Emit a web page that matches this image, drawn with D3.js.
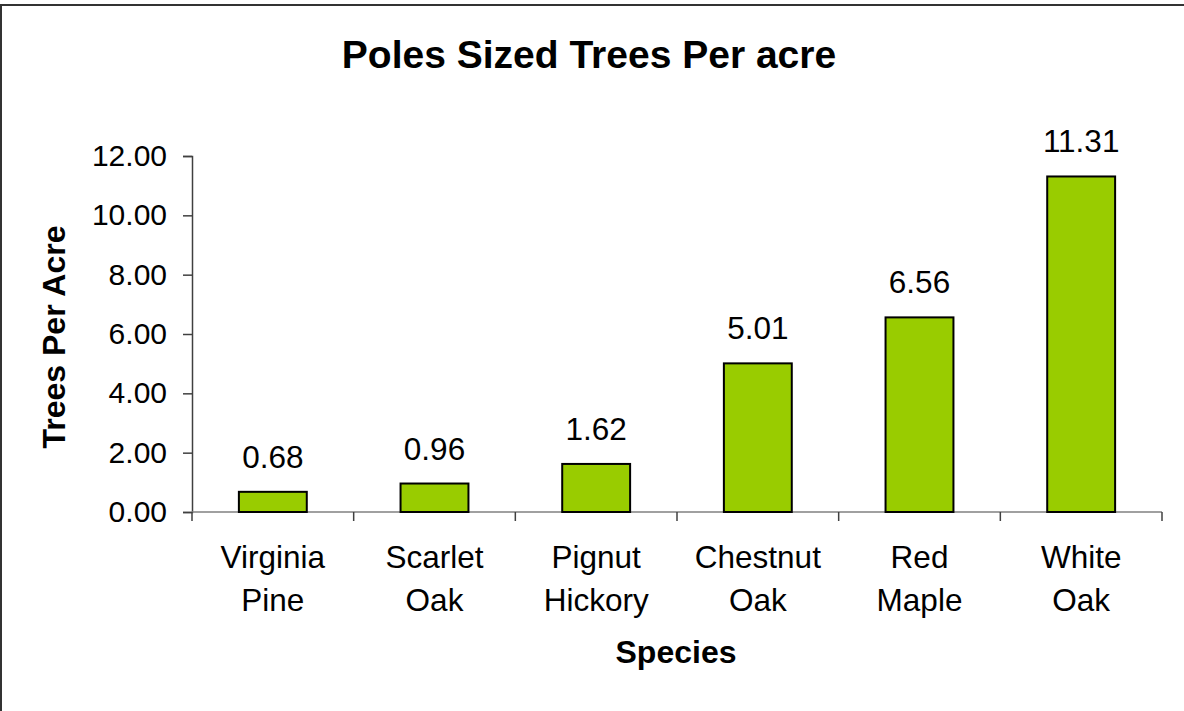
<!DOCTYPE html>
<html>
<head>
<meta charset="utf-8">
<script src="https://cdn.jsdelivr.net/npm/d3@7"></script>
<style>
  body { margin: 0; background: #fff; }
  svg { display: block; font-family: 'Liberation Sans', Arial, sans-serif; }
</style>
</head>
<body>
<svg id="chart" width="1184" height="711"></svg>
<script>
const species = [['Virginia', 'Pine'], ['Scarlet', 'Oak'], ['Pignut', 'Hickory'], ['Chestnut', 'Oak'], ['Red', 'Maple'], ['White', 'Oak']]
const treesPerAcre = [0.68, 0.96, 1.62, 5.01, 6.56, 11.31]
const yTicks = [0, 2, 4, 6, 8, 10, 12]

const svg = d3.select('#chart')
const margin = { left: 192, right: 22, top: 156, bottom: 199 }
const width = 1184 - margin.left - margin.right
const height = 711 - margin.top - margin.bottom

// outer frame (right and bottom edges run off the picture)
svg.append('rect')
	.attr('x', 1).attr('y', 5)
	.attr('width', 1200).attr('height', 720)
	.attr('fill', 'none')
	.attr('stroke', '#333')
	.attr('stroke-width', 2)

const names = species.map((d) => d.join(' '))
const x = d3.scaleBand().domain(names).range([0, width]).padding(0)
const y = d3.scaleLinear().domain([0, 12]).range([height, 0])

const g = svg.append('g').attr('transform', `translate(${margin.left},${margin.top})`)

// y axis
const yAxis = g.append('g')
	.call(d3.axisLeft(y).tickValues(yTicks).tickFormat(d3.format('.2f')).tickSize(9).tickPadding(16))
yAxis.select('.domain').attr('stroke', '#404040').attr('stroke-width', 1.5)
yAxis.selectAll('.tick line').attr('stroke', '#404040').attr('stroke-width', 1.5)
yAxis.selectAll('text').attr('font-size', 30).attr('fill', '#000')

// x axis: ticks at category boundaries
const xAxis = g.append('g').attr('transform', `translate(0,${height})`)
xAxis.append('line')
	.attr('x1', 0).attr('x2', width)
	.attr('stroke', '#808080').attr('stroke-width', 1.5)
xAxis.selectAll('.sep')
	.data(d3.range(names.length + 1))
	.join('line')
	.attr('x1', (i) => i * x.step()).attr('x2', (i) => i * x.step())
	.attr('y1', 0).attr('y2', 9)
	.attr('stroke', '#404040').attr('stroke-width', 1.5)

const lbl = xAxis.selectAll('.cat')
	.data(species)
	.join('text')
	.attr('text-anchor', 'middle')
	.attr('font-size', 31.5)
	.attr('transform', (d, i) => `translate(${x(names[i]) + x.bandwidth() / 2},0)`)
lbl.append('tspan').attr('x', 0).attr('y', 56).text((d) => d[0])
lbl.append('tspan').attr('x', 0).attr('y', 99).text((d) => d[1])

// bars
const barW = x.bandwidth() * 0.42
g.selectAll('.bar')
	.data(treesPerAcre)
	.join('rect')
	.attr('x', (d, i) => x(names[i]) + (x.bandwidth() - barW) / 2)
	.attr('y', (d) => y(d))
	.attr('width', barW)
	.attr('height', (d) => y(0) - y(d))
	.attr('fill', '#99cc00')
	.attr('stroke', '#000')
	.attr('stroke-width', 2)

// value labels
g.selectAll('.val')
	.data(treesPerAcre)
	.join('text')
	.attr('x', (d, i) => x(names[i]) + x.bandwidth() / 2)
	.attr('y', (d) => y(d) - 24)
	.attr('text-anchor', 'middle')
	.attr('font-size', 31.5)
	.text((d) => d3.format('.2f')(d))

// titles
svg.append('text')
	.attr('x', 589).attr('y', 68)
	.attr('text-anchor', 'middle')
	.attr('font-size', 39).attr('font-weight', 'bold')
	.text('Poles Sized Trees Per acre')

svg.append('text')
	.attr('transform', `translate(65,${margin.top + height / 2 + 3}) rotate(-90)`)
	.attr('text-anchor', 'middle')
	.attr('font-size', 32).attr('font-weight', 'bold')
	.text('Trees Per Acre')

svg.append('text')
	.attr('x', margin.left + width / 2 - 1).attr('y', 663)
	.attr('text-anchor', 'middle')
	.attr('font-size', 32).attr('font-weight', 'bold')
	.text('Species')
</script>
</body>
</html>
